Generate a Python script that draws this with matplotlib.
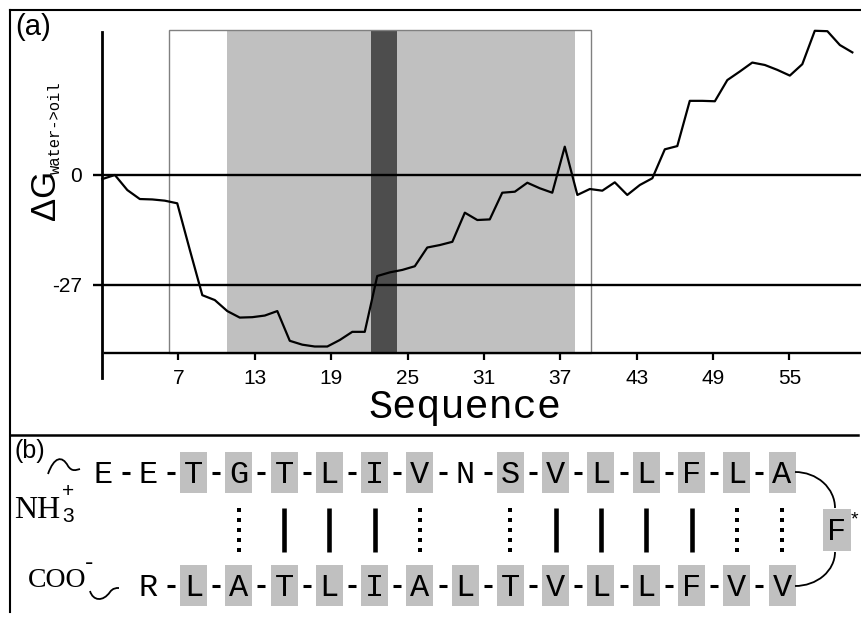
import numpy as np
import matplotlib.pyplot as plt
from matplotlib.patches import Rectangle, Arc, PathPatch
from matplotlib.path import Path

plt.rcParams['font.family'] = ['Liberation Sans', 'DejaVu Sans']

# ---- panel (a): hydrophobicity profile ----
seq_x = [1.02, 2.01, 2.99, 3.97, 4.95, 5.93, 6.91, 7.90, 8.88, 9.86,
         10.84, 11.82, 12.81, 13.79, 14.77, 15.75, 16.73, 17.71, 18.70, 19.68,
         20.66, 21.64, 22.62, 23.61, 24.59, 25.57, 26.55, 27.53, 28.52, 29.50,
         30.48, 31.46, 32.44, 33.43, 34.41, 35.39, 36.37, 37.35, 38.34, 39.32,
         40.30, 41.28, 42.26, 43.25, 44.23, 45.21, 46.19, 47.17, 48.16, 49.14,
         50.12, 51.10, 52.08, 53.07, 54.05, 55.03, 56.01, 56.99, 57.98, 58.96,
         59.94]
dg = [-1.0, 0.0, -3.7, -5.9, -6.0, -6.3, -6.95, -18.4, -29.5, -30.7,
      -33.4, -35.0, -34.9, -34.5, -33.4, -40.7, -41.65, -42.1, -42.1, -40.5,
      -38.5, -38.5, -24.8, -23.9, -23.3, -22.4, -17.8, -17.2, -16.4, -9.25,
      -11.05, -10.9, -4.35, -4.1, -1.9, -3.26, -4.35, 6.95, -4.9, -3.44,
      -3.85, -1.8, -4.9, -2.45, -0.8, 6.3, 7.1, 18.2, 18.2, 18.1,
      23.3, 25.4, 27.6, 27.0, 25.8, 24.4, 27.2, 35.4, 35.3, 31.9,
      30.1]
xticks = [7, 13, 19, 25, 31, 37, 43, 49, 55]
yticks = [0, -27]
ytick_labels = ['0', '-27']
window = (6.26, 39.4)
helix = (10.82, 38.16)
core = (22.13, 24.14)

# ---- panel (b): strand pairing ----
top_res = list("EETGTLIVNSVLLFLA")
top_shaded = [0, 0, 1, 1, 1, 1, 1, 1, 0, 1, 1, 1, 1, 1, 1, 1]
bot_res = list("RLATLIALTVLLFVV")
bot_shaded = [0, 1, 1, 1, 1, 1, 1, 1, 1, 1, 1, 1, 1, 1, 1]
solid_cols = [4, 5, 6, 10, 11, 12, 13]
dotted_cols = [3, 7, 9, 14, 15]

W, H = 861, 617
fig = plt.figure(figsize=(W / 100, H / 100), dpi=100)

# overlay in pixel units for frame, labels and the sequence diagram
axf = fig.add_axes([0, 0, 1, 1])
axf.set_xlim(0, W)
axf.set_ylim(H, 0)
axf.axis('off')

ax = fig.add_axes([102 / W, 1 - 352.7 / H, 759 / W, 320.7 / H])
ax.set_facecolor('none')
ymin, ymax = -43.62, 35.10
box_top = 35.6
ax.set_xlim(1, 60.62)
ax.set_ylim(ymin, ymax)

ax.add_patch(Rectangle((helix[0], ymin), helix[1] - helix[0], box_top - ymin,
                       facecolor='#c0c0c0', lw=0, clip_on=False, zorder=0))
ax.add_patch(Rectangle((core[0], ymin), core[1] - core[0], box_top - ymin,
                       facecolor='#4d4d4d', lw=0, clip_on=False, zorder=0.5))
ax.add_patch(Rectangle((window[0], ymin), window[1] - window[0], box_top - ymin,
                       facecolor='none', edgecolor='#808080', lw=1.0,
                       clip_on=False, zorder=1))
for yv in yticks:
    ax.axhline(yv, color='black', lw=1.7, zorder=2)
ax.plot(seq_x, dg, color='black', lw=1.6, zorder=3, clip_on=False)

for s in ['top', 'right']:
    ax.spines[s].set_visible(False)
ax.spines['left'].set_linewidth(2.0)
ax.spines['left'].set_bounds(-49.8, ymax)
ax.spines['bottom'].set_linewidth(1.7)
ax.spines['bottom'].set_bounds(1.24, 60.62)
ax.set_xticks(xticks)
ax.set_xticklabels([str(t) for t in xticks])
ax.set_yticks(yticks)
ax.set_yticklabels(ytick_labels)
ax.tick_params(axis='x', length=5, width=1.6, pad=7, labelsize=15)
ax.tick_params(axis='y', length=6.5, width=1.7, pad=8, labelsize=15)

axf.text(465, 418, 'Sequence', family='Liberation Mono', fontsize=29,
         ha='center', va='baseline')
axf.text(55.5, 220, '\u0394G', rotation=90, rotation_mode='anchor',
         ha='left', va='baseline', fontsize=25)
axf.text(60, 174, 'water->oil', rotation=90, rotation_mode='anchor',
         ha='left', va='baseline', family='Liberation Mono', fontsize=11.2)

# frame
axf.plot([10, W], [10, 10], color='black', lw=1.5)
axf.plot([10, 10], [10, 612], color='black', lw=1.5)
axf.plot([10, 858], [435, 435], color='black', lw=1.8)
axf.text(15, 13, '(a)', fontsize=21, va='top')
axf.text(15, 439, '(b)', fontsize=18, va='top')

# sequence diagram
def col_x(k):
    return 103 + 45.27 * k

top_y, bot_y = 472.5, 585.5
letter_kw = dict(ha='center', va='baseline', fontsize=23,
                 family='Liberation Mono', zorder=3)


def draw_row(residues, shaded, start, cy):
    for i, (r, sh) in enumerate(zip(residues, shaded)):
        cx = col_x(start + i)
        if sh:
            axf.add_patch(Rectangle((cx - 13.5, cy - 20.5), 27, 41,
                                    facecolor='#c0c0c0', lw=0, zorder=1))
        axf.text(cx, cy + 10.5, r, **letter_kw)
        if i < len(residues) - 1:
            mx = cx + 45.27 / 2
            axf.plot([mx - 4, mx + 4], [cy, cy], color='black', lw=2.2,
                     solid_capstyle='butt')


draw_row(top_res, top_shaded, 0, top_y)
draw_row(bot_res, bot_shaded, 1, bot_y)

for k in solid_cols:
    axf.plot([col_x(k)] * 2, [508, 552], color='black', lw=3.3,
             solid_capstyle='butt')
for k in dotted_cols:
    axf.plot([col_x(k)] * 5, [509.5, 519.5, 529.5, 539.5, 549.5], 's',
             color='black', ms=2.6, mew=0)

# turn residue
fx, fy = 837, 530
axf.add_patch(Rectangle((fx - 14, fy - 21), 28, 42, facecolor='#c0c0c0',
                        lw=0, zorder=1))
axf.text(fx, fy + 10.5, 'F', **letter_kw)
axf.text(851, 511, '*', fontsize=14, ha='left', va='top')
axf.add_patch(Arc((795, 508), 80, 72, theta1=270, theta2=360,
                  color='black', lw=1.3))
axf.add_patch(Arc((795, 552), 80, 68, theta1=0, theta2=90,
                  color='black', lw=1.3))

# termini
C4 = Path.CURVE4
tilde_top = Path([(48, 474), (54, 457), (62, 455), (68, 466),
                  (72, 472), (76, 470), (80, 469)],
                 [Path.MOVETO, C4, C4, C4, C4, C4, C4])
tilde_bot = Path([(90, 591), (93, 601), (103, 602), (110, 592),
                  (113, 588), (116, 588), (119, 588)],
                 [Path.MOVETO, C4, C4, C4, C4, C4, C4])
for p in (tilde_top, tilde_bot):
    axf.add_patch(PathPatch(p, facecolor='none', edgecolor='black', lw=1.3))

axf.text(14, 518, 'NH', family='Liberation Serif', fontsize=23, va='baseline')
axf.text(62, 497, '+', fontsize=15, va='baseline')
axf.text(62, 522, '3', fontsize=15, va='baseline')
axf.text(28, 587, 'COO', family='Liberation Serif', fontsize=20, va='baseline')
axf.text(85, 570, '-', fontsize=18, va='baseline')

fig.savefig('out.png', dpi=100)
